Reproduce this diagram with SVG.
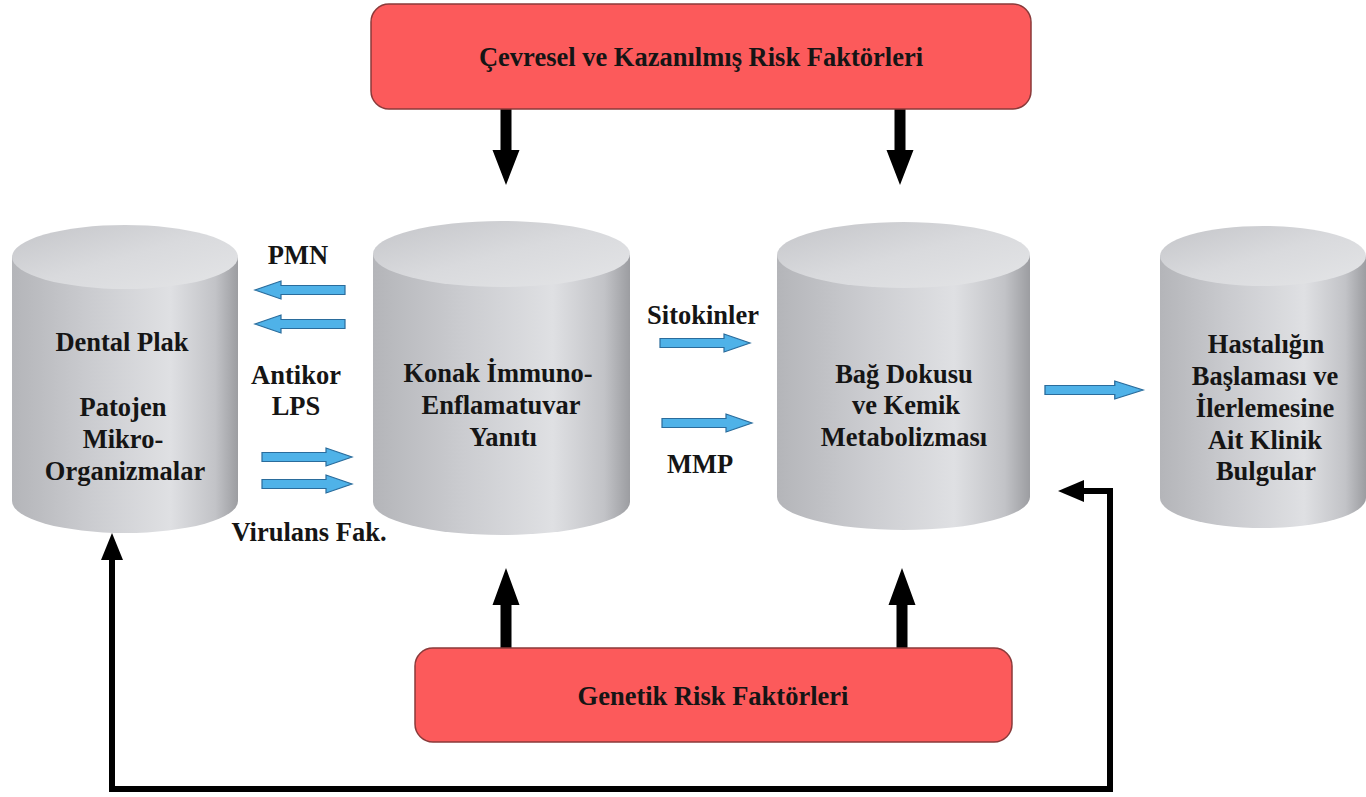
<svg xmlns="http://www.w3.org/2000/svg" width="1366" height="797" viewBox="0 0 1366 797">
<style>
  .t{font-family:"Liberation Serif","Times New Roman",serif;font-weight:bold;font-size:26.5px;fill:#151515;text-anchor:middle}
  .box{fill:#fc5a5b;stroke:#8a3a3a;stroke-width:1.5}
  .body{fill:url(#gBody)}
  .top{fill:url(#gTop)}
  .blue{fill:#4fb2e8;stroke:#2a6c9c;stroke-width:1.2}
  .blk{fill:#000}
  .fb{fill:none;stroke:#000;stroke-width:6}
</style>
<defs>
  <linearGradient id="gBody" x1="0" y1="0" x2="1" y2="0">
    <stop offset="0" stop-color="#b4b5b9"/>
    <stop offset="0.35" stop-color="#cbccd0"/>
    <stop offset="0.7" stop-color="#dfe0e3"/>
    <stop offset="0.9" stop-color="#c2c3c7"/>
    <stop offset="1" stop-color="#9c9da1"/>
  </linearGradient>
  <linearGradient id="gTop" x1="0" y1="0" x2="1" y2="1">
    <stop offset="0" stop-color="#c4c5c9"/>
    <stop offset="0.5" stop-color="#d9dadd"/>
    <stop offset="1" stop-color="#e4e5e7"/>
  </linearGradient>
  <path id="ba" d="M0,-4.5 H64 V-9 L90,0 L64,9 V4.5 H0 Z"/>
</defs>
<rect width="1366" height="797" fill="#fff"/>

<g id="connectors">
  <!-- black risk arrows -->
  <polygon class="blk" points="500.5,108 511.5,108 511.5,150 519.5,150 506,185 492.5,150 500.5,150"/>
  <polygon class="blk" points="894.5,108 905.5,108 905.5,150 913.5,150 900,185 886.5,150 894.5,150"/>
  <polygon class="blk" points="500.5,648 511.5,648 511.5,605 519.5,605 506,568 492.5,605 500.5,605"/>
  <polygon class="blk" points="896.5,648 907.5,648 907.5,605 915.5,605 902,568 888.5,605 896.5,605"/>
  <!-- feedback loop -->
  <path class="fb" d="M112,556 V789 H1110 V491 H1080"/>
  <polygon class="blk" points="112,533 101,560 123,560"/>
  <polygon class="blk" points="1058,491 1084,480 1084,502"/>
  <!-- blue arrows -->
  <use href="#ba" class="blue" transform="translate(345 290) scale(-1 1)"/>
  <use href="#ba" class="blue" transform="translate(345 324) scale(-1 1)"/>
  <use href="#ba" class="blue" transform="translate(262 457)"/>
  <use href="#ba" class="blue" transform="translate(262 484)"/>
  <use href="#ba" class="blue" transform="translate(660 343)"/>
  <use href="#ba" class="blue" transform="translate(662 423)"/>
  <use href="#ba" class="blue" transform="translate(1045 390) scale(1.09 1)"/>
  <!-- labels -->
  <text class="t" x="298" y="264">PMN</text>
  <text class="t" x="296" y="384">Antikor</text>
  <text class="t" x="296" y="415">LPS</text>
  <text class="t" x="309" y="541">Virulans Fak.</text>
  <text class="t" x="703" y="324">Sitokinler</text>
  <text class="t" x="700" y="473">MMP</text>
</g>

<g id="node-cevresel">
  <rect class="box" x="371" y="4" width="660" height="105" rx="18"/>
  <text class="t" x="701" y="66">Çevresel ve Kazanılmış Risk Faktörleri</text>
</g>

<g id="node-genetik">
  <rect class="box" x="415" y="648" width="597" height="94" rx="18"/>
  <text class="t" x="713" y="705">Genetik Risk Faktörleri</text>
</g>

<g id="node-dental">
  <path class="body" d="M12,257 V501 A113,32 0 0 0 238,501 V257 Z"/>
  <ellipse class="top" cx="125" cy="257" rx="113" ry="32"/>
  <text class="t" x="122" y="351">Dental Plak</text>
  <text class="t" x="123" y="416">Patojen</text>
  <text class="t" x="123" y="448">Mikro-</text>
  <text class="t" x="125" y="480">Organizmalar</text>
</g>

<g id="node-konak">
  <path class="body" d="M373,254 V502 A128.5,33 0 0 0 630,502 V254 Z"/>
  <ellipse class="top" cx="501.5" cy="254" rx="128.5" ry="33"/>
  <text class="t" x="498" y="382">Konak İmmuno-</text>
  <text class="t" x="501" y="414">Enflamatuvar</text>
  <text class="t" x="503" y="446">Yanıtı</text>
</g>

<g id="node-bag">
  <path class="body" d="M777,255 V497 A126.5,33 0 0 0 1030,497 V255 Z"/>
  <ellipse class="top" cx="903.5" cy="255" rx="126.5" ry="33"/>
  <text class="t" x="904" y="383">Bağ Dokusu</text>
  <text class="t" x="906" y="414">ve Kemik</text>
  <text class="t" x="904" y="446">Metabolizması</text>
</g>

<g id="node-hastalik">
  <path class="body" d="M1160,256 V498 A103,30 0 0 0 1366,498 V256 Z"/>
  <ellipse class="top" cx="1263" cy="256" rx="103" ry="30"/>
  <text class="t" x="1266" y="353">Hastalığın</text>
  <text class="t" x="1265" y="385">Başlaması ve</text>
  <text class="t" x="1265" y="417">İlerlemesine</text>
  <text class="t" x="1265" y="449">Ait Klinik</text>
  <text class="t" x="1266" y="480">Bulgular</text>
</g>
</svg>
